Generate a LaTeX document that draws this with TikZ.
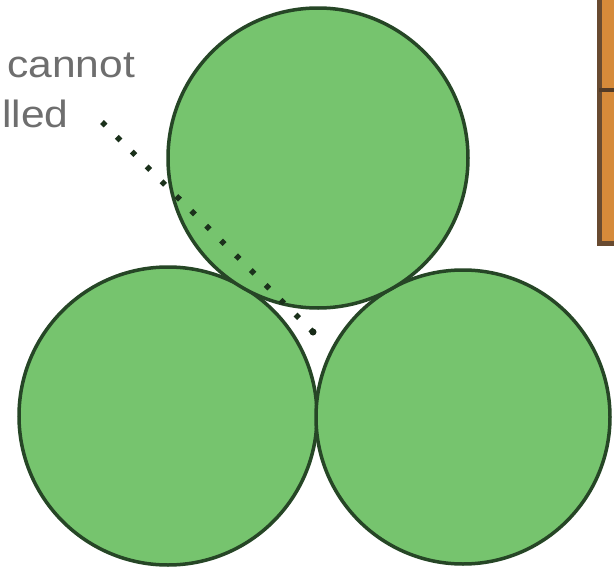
\documentclass[tikz,border=0pt]{standalone}
\usepackage{fontspec}
\setmainfont{Liberation Sans}
\newfontfamily\lblfont[FakeStretch=1.12]{Liberation Sans}
\definecolor{leaf}{RGB}{118,196,110}
\definecolor{leafedge}{RGB}{38,70,38}
\definecolor{boxfill}{RGB}{214,138,58}
\definecolor{boxedge}{RGB}{104,74,48}
\definecolor{labelgray}{RGB}{110,110,110}
\begin{document}
\begin{tikzpicture}[x=1pt,y=-1pt,
  ball/.style={circle,draw=leafedge,line width=3.5pt,fill=leaf,inner sep=0pt},
  lbl/.style={inner sep=0pt,anchor=base west,text=labelgray,font=\lblfont\fontsize{38}{42}\selectfont},
  pointer/.style={draw=leafedge!70!black,line width=5.5pt,dash pattern=on 5pt off 16pt}]
\useasboundingbox (0,0) rectangle (614,581);
\fill[white] (0,0) rectangle (614,581);
% orange box at right edge
\draw[boxedge,line width=5pt,fill=boxfill] (599,-10) rectangle (630,243);
\draw[boxedge!80!black,line width=4pt] (599,90) -- (630,90);
% circles
\node[ball,minimum size=298pt] (bl) at (168,416) {};
\node[ball,minimum size=294pt] (br) at (463,417) {};
\node[ball,minimum size=300pt] (top) at (318,158) {};
% label
\node[lbl] (l1) at (7,77) {cannot};
\node[lbl] (l2) at (2,127) {lled};
% dotted pointer
\coordinate (ps) at (102,122);
\coordinate (gap) at (313,332);
\draw[pointer] (ps) -- (gap);
\fill[leafedge!60!black] (gap) circle (3.5pt);
\end{tikzpicture}
\end{document}
